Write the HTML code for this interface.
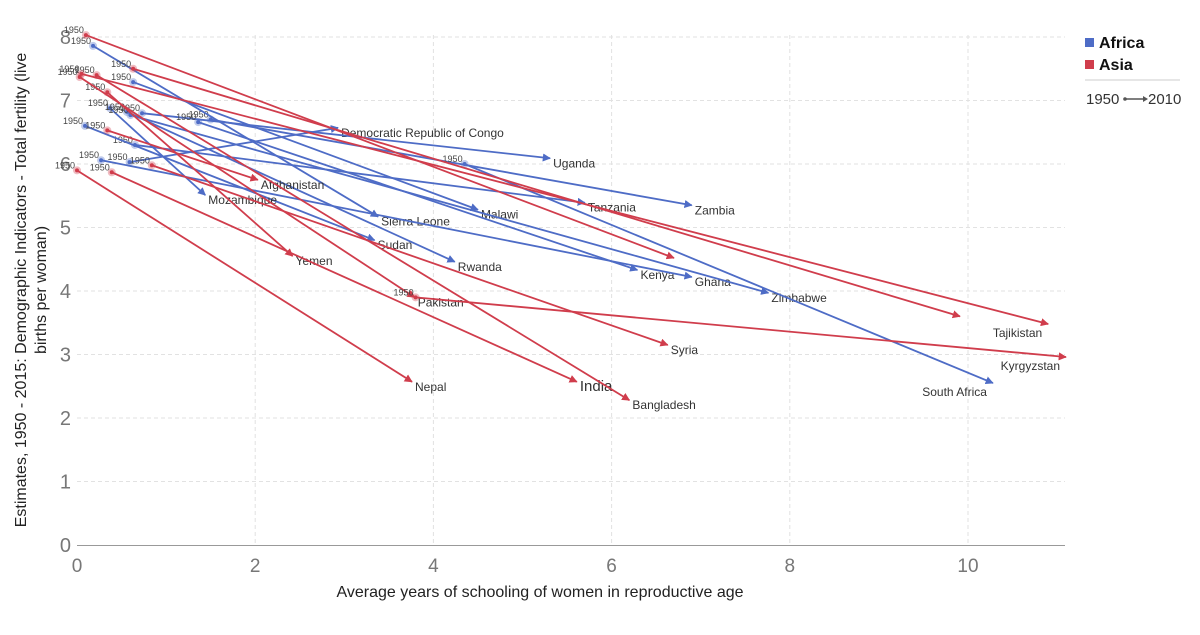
<!DOCTYPE html>
<html><head><meta charset="utf-8">
<style>
body{margin:0;background:#fff;font-family:"Liberation Sans",sans-serif;}
svg text{font-family:"Liberation Sans",sans-serif;}
</style></head>
<body>
<svg id="chart" width="1200" height="630">
<defs>
<marker id="ab" viewBox="0 0 10 10" refX="9" refY="5" markerWidth="4.5" markerHeight="4.5" orient="auto"><path d="M0,0L10,5L0,10z" fill="#4e6cc6"/></marker>
<marker id="ar" viewBox="0 0 10 10" refX="9" refY="5" markerWidth="4.5" markerHeight="4.5" orient="auto"><path d="M0,0L10,5L0,10z" fill="#d03d4c"/></marker>
</defs>
<g id="grid"></g>
<g id="marks"></g>
<text x="540" y="597" text-anchor="middle" font-size="16" fill="#222">Average years of schooling of women in reproductive age</text>
<text transform="translate(26,290) rotate(-90)" text-anchor="middle" font-size="16" fill="#222"><tspan x="0" dy="0">Estimates, 1950 - 2015: Demographic Indicators - Total fertility (live</tspan><tspan x="0" dy="20">births per woman)</tspan></text>
<g>
<g><rect x="1085" y="38" width="9" height="9" fill="#4e6cc6"/><text x="1099" y="48" font-size="16" font-weight="bold" fill="#111">Africa</text></g>
<g><rect x="1085" y="60" width="9" height="9" fill="#d03d4c"/><text x="1099" y="70" font-size="16" font-weight="bold" fill="#111">Asia</text></g>
<line x1="1085" y1="80" x2="1180" y2="80" stroke="#ccc"/>
<text x="1086" y="104" font-size="15" fill="#333">1950</text>
<line x1="1124" y1="99" x2="1143" y2="99" stroke="#555" stroke-width="1.5"/><circle cx="1125" cy="99" r="1.8" fill="#555"/><path d="M1143,96L1148,99L1143,102z" fill="#555"/>
<text x="1148" y="104" font-size="15" fill="#333">2010</text>
</g>
</svg>
<script>
const countries=["Democratic Republic of Congo","Uganda","Zambia","Tanzania","Malawi","Sierra Leone","Sudan","Mozambique","Rwanda","Kenya","Ghana","Zimbabwe","South Africa","Afghanistan","Yemen","Pakistan","Nepal","India","Bangladesh","Syria","","","Tajikistan","Kyrgyzstan"];
const regions=["A","A","A","A","A","A","A","A","A","A","A","A","A","S","S","S","S","S","S","S","S","S","S","S"];
const x1950=[0.59,0.73,1.5,0.65,0.63,0.18,0.09,0.37,0.56,1.36,0.27,0.6,4.35,0.34,0.34,0.03,0.0,0.39,0.22,0.84,0.1,0.63,0.05,3.8];
const y1950=[6.03,6.8,6.7,6.3,7.29,7.86,6.6,6.88,6.82,6.66,6.06,6.77,6.0,6.53,7.13,7.37,5.9,5.87,7.4,5.98,8.03,7.5,7.42,3.9];
const x2010=[2.93,5.31,6.9,5.7,4.5,3.38,3.34,1.44,4.24,6.29,6.9,7.76,10.28,2.03,2.42,3.79,3.76,5.61,6.2,6.63,6.7,9.91,10.9,11.1];
const y2010=[6.57,6.09,5.35,5.39,5.28,5.17,4.8,5.51,4.46,4.33,4.22,3.97,2.55,5.75,4.55,3.9,2.57,2.57,2.28,3.15,4.52,3.6,3.48,2.96];
const xTicks=[0,2,4,6,8,10];
const yTicks=[0,1,2,3,4,5,6,7,8];
const NS="http://www.w3.org/2000/svg";
const X=v=>77+v*89.1, Y=v=>545-v*63.5;
const grid=document.getElementById('grid'), marks=document.getElementById('marks');
function mk(tag,attrs,parent){const e=document.createElementNS(NS,tag);for(const k in attrs)e.setAttribute(k,attrs[k]);parent.appendChild(e);return e;}
xTicks.forEach(t=>{
  if(t>0){const l=mk('line',{x1:X(t),x2:X(t),y1:35,y2:545,stroke:'#e2e2e2','stroke-dasharray':'4,3'},grid);
  
  }
  const tx=mk('text',{x:X(t),y:572,'text-anchor':'middle','font-size':19,fill:'#777'},grid);tx.textContent=t;
  
  
});
yTicks.forEach(t=>{
  if(t>0){const l=mk('line',{x1:77,x2:1065,y1:Y(t),y2:Y(t),stroke:'#e2e2e2','stroke-dasharray':'4,3'},grid);
  
  }
  const tx=mk('text',{x:71,y:Y(t)+7,'text-anchor':'end','font-size':20,fill:'#777'},grid);tx.textContent=t;
  
  
});
const ax=mk('line',{x1:77,x2:1065,y1:545.5,y2:545.5,stroke:'#999'},grid);


countries.forEach((c,i)=>{
  const col=regions[i]==='A'?'#4e6cc6':'#d03d4c';
  const g=mk('g',{},marks);
  
  
  mk('circle',{cx:X(x1950[i]),cy:Y(y1950[i]),r:4,fill:col,opacity:0.35},g);
  mk('circle',{cx:X(x1950[i]),cy:Y(y1950[i]),r:2,fill:col},g);
  mk('line',{x1:X(x1950[i]),y1:Y(y1950[i]),x2:X(x2010[i]),y2:Y(y2010[i]),stroke:col,'stroke-width':1.8,'marker-end':'url(#a'+(regions[i]==='A'?'b':'r')+')'},g);
  const s=mk('text',{x:X(x1950[i])-2,y:Y(y1950[i])-2,'text-anchor':'end','font-size':9,fill:'#444'},g);s.textContent='1950';
  if(c){const big=c==='India';
    const right=x2010[i]>10;
    const t=mk('text',{x:right?X(x2010[i])-6:X(x2010[i])+3,y:Y(y2010[i])+(right?13:9),'text-anchor':right?'end':'start','font-size':big?15:12,fill:'#333'},g);t.textContent=c;}
});
</script>
</body></html>
